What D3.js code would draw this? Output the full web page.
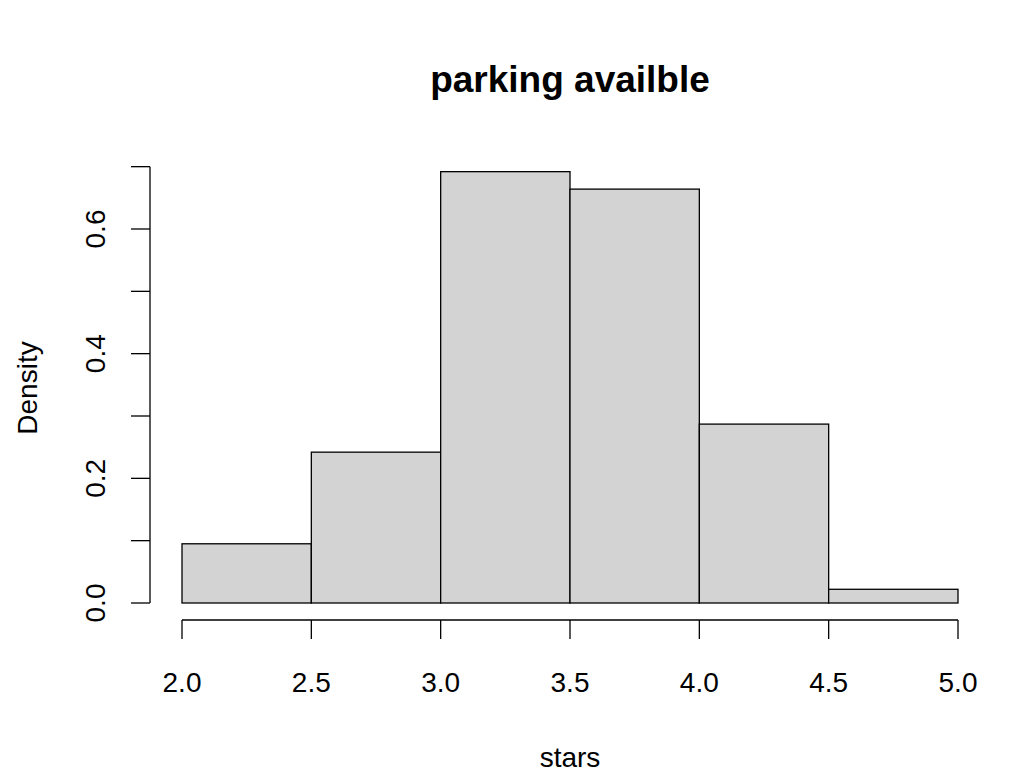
<!DOCTYPE html>
<html><head><meta charset="utf-8">
<script src="https://cdn.jsdelivr.net/npm/d3@7"></script>
<style>body{margin:0;background:#fff}text{font-family:"Liberation Sans",Arial,sans-serif}</style>
</head><body>
<svg id="chart" width="1028" height="784"></svg>
<script>
// histogram bins (stars) and densities
var binEdges = [2.0, 2.5, 3.0, 3.5, 4.0, 4.5, 5.0];
var densities = [0.095, 0.242, 0.692, 0.664, 0.287, 0.022];
var xTicks = [2.0, 2.5, 3.0, 3.5, 4.0, 4.5, 5.0];
var yTicks = [0, 0.1, 0.2, 0.3, 0.4, 0.5, 0.6, 0.7];
var yLabels = [0, 0.2, 0.4, 0.6];

var svg = d3.select("#chart");
var x = d3.scaleLinear().domain([2, 5]).range([182, 958]);
var y = d3.scaleLinear().domain([0, 0.6]).range([603, 229]);

svg.selectAll("rect.bar").data(densities).enter().append("rect")
    .attr("class", "bar")
    .attr("x", (d, i) => x(binEdges[i]))
    .attr("width", (d, i) => x(binEdges[i + 1]) - x(binEdges[i]))
    .attr("y", d => y(d))
    .attr("height", d => y(0) - y(d))
    .style("fill", "#d3d3d3").style("stroke", "#000").style("stroke-width", 1.3);

// x axis
var xa = svg.append("g").attr("transform", "translate(0,620)");
xa.append("line").attr("x1", x(2)).attr("x2", x(5)).attr("stroke", "#000").attr("stroke-width", 1.3);
xTicks.forEach(function (t) {
    xa.append("line").attr("x1", x(t)).attr("x2", x(t)).attr("y2", 19).attr("stroke", "#000").attr("stroke-width", 1.3);
    xa.append("text").attr("x", x(t)).attr("y", 72).attr("text-anchor", "middle")
        .style("font-size", "28px").text(d3.format(".1f")(t));
});

// y axis
var ya = svg.append("g").attr("transform", "translate(150,0)");
ya.append("line").attr("y1", y(0)).attr("y2", y(0.7)).attr("stroke", "#000").attr("stroke-width", 1.3);
yTicks.forEach(function (t) {
    ya.append("line").attr("y1", y(t)).attr("y2", y(t)).attr("x2", -19).attr("stroke", "#000").attr("stroke-width", 1.3);
});
yLabels.forEach(function (t) {
    ya.append("text").attr("transform", "translate(-45," + y(t) + ") rotate(-90)")
        .attr("text-anchor", "middle").style("font-size", "28px").text(d3.format(".1f")(t));
});

svg.append("text").attr("x", 570).attr("y", 92).attr("text-anchor", "middle")
    .style("font-size", "37px").style("font-weight", "bold").text("parking availble");
svg.append("text").attr("x", 570).attr("y", 767).attr("text-anchor", "middle")
    .style("font-size", "28px").text("stars");
svg.append("text").attr("transform", "translate(37,388) rotate(-90)").attr("text-anchor", "middle")
    .style("font-size", "28px").text("Density");
</script>
</body></html>
